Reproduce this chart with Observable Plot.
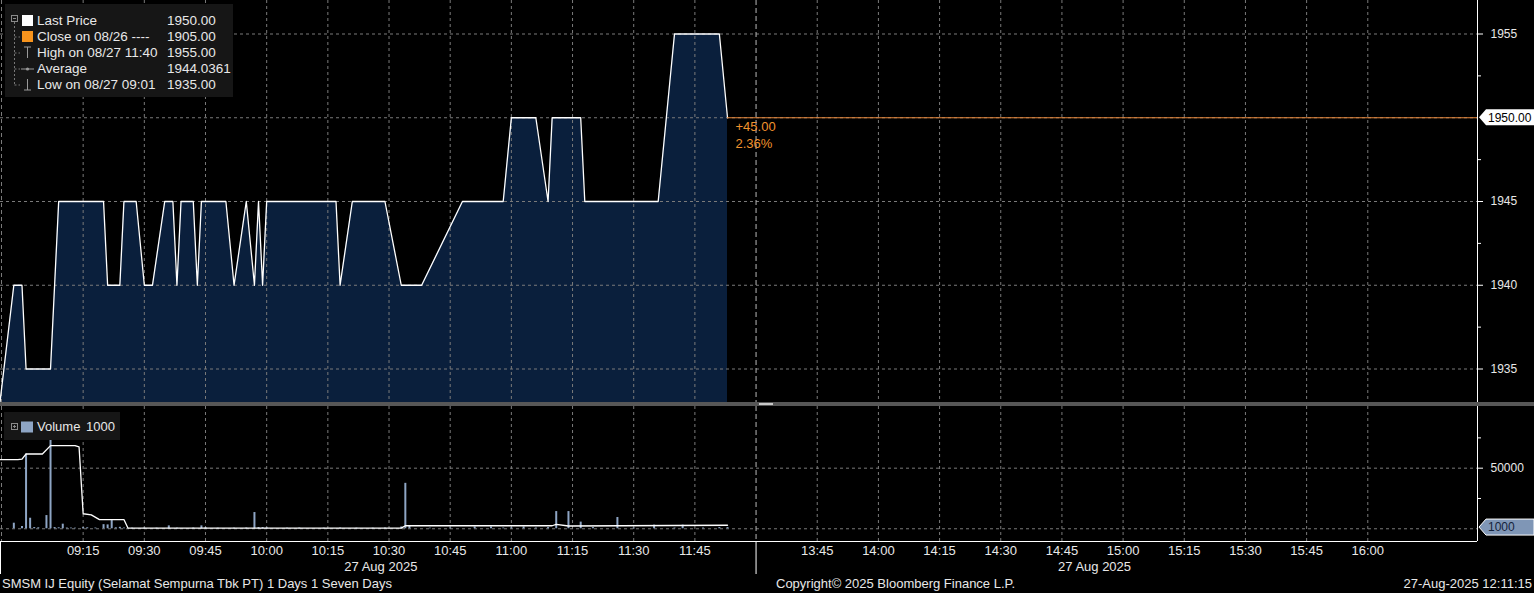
<!DOCTYPE html>
<html>
<head>
<meta charset="utf-8">
<script src="https://cdn.jsdelivr.net/npm/d3@7"></script>
<script src="https://cdn.jsdelivr.net/npm/@observablehq/plot@0.6"></script>
<style>
  html,body{margin:0;padding:0;background:#000;}
  #root{position:relative;width:1534px;height:593px;overflow:hidden;background:#000;font-family:"Liberation Sans",Arial,sans-serif;color:#e8e8e8;}
  #root svg{position:absolute;left:0;}
  .box{position:absolute;background:#161616;}
  .lgtext{position:absolute;font-size:13.5px;line-height:16px;white-space:pre;color:#e8e8e8;}
  .foot{position:absolute;top:576px;font-size:13px;line-height:16px;white-space:pre;color:#e8e8e8;}
</style>
</head>
<body>
<div id="root"></div>
<script>
// ---------- data ----------
const viewRange = ["08:54:44", "16:26:54"];          // visible time window (lunch break collapsed)
const sessionBreak = ["12:00", "13:30"];
const timeTickLabels = ["09:15","09:30","09:45","10:00","10:15","10:30","10:45","11:00","11:15","11:30","11:45",
                        "13:45","14:00","14:15","14:30","14:45","15:00","15:15","15:30","15:45","16:00"];
const dateLabel = "27 Aug 2025";
const dateLabelAt = ["10:28", "14:53"];

const priceTimes = ["08:41","08:58","09:00","09:01","09:07","09:09","09:20","09:21","09:24","09:25",
                    "09:28","09:30","09:32","09:35","09:37","09:38","09:39","09:42","09:43","09:44",
                    "09:50","09:52","09:55","09:57","09:58","09:59","10:00","10:17","10:18","10:21",
                    "10:29","10:33","10:38","10:48","10:58","11:00","11:06","11:09","11:10","11:17",
                    "11:18","11:36","11:40","11:51","11:53"];
const priceValues = [1905,1940,1940,1935,1935,1945,1945,1940,1940,1945,
                     1945,1940,1940,1945,1945,1940,1945,1945,1940,1945,
                     1945,1940,1945,1940,1945,1940,1945,1945,1940,1945,
                     1945,1940,1940,1945,1945,1950,1950,1945,1950,1950,
                     1945,1945,1955,1955,1950];
const priceDomain = [1933, 1957];
const priceTicks = [1935, 1940, 1945, 1955];
const priceMinorTicks = [1937.5, 1942.5, 1947.5, 1952.5];
const priceGrid = [1935, 1940, 1945, 1950, 1955];
const lastPrice = 1950;
const lastTime = "11:53";
const changeLabel = "+45.00\n2.36%";

const legendLabels = ["Last Price", "Close on 08/26 ----", "High on 08/27 11:40", "Average", "Low on 08/27 09:01"];
const legendValues = ["1950.00", "1905.00", "1955.00", "1944.0361", "1935.00"];

const volumeTimes = ["08:58","09:00","09:01","09:02","09:03","09:04","09:06","09:07","09:08","09:09",
                     "09:10","09:11","09:12","09:13","09:15","09:16","09:18","09:20","09:21","09:22",
                     "09:23","09:24","09:25","09:27","09:30","09:33","09:36","09:38","09:42","09:44",
                     "09:45","09:48","09:52","09:55","09:57","09:58","09:59","10:00","10:05","10:08",
                     "10:14","10:18","10:22","10:26","10:29","10:33","10:34","10:35","10:40","10:45",
                     "10:51","10:55","10:58","11:00","11:03","11:06","11:09","11:11","11:14","11:17",
                     "11:20","11:26","11:30","11:35","11:40","11:42","11:47","11:51","11:53"];
const volumeValues = [4600,1900,61700,8700,1000,800,10900,91000,1000,800,
                      3800,600,600,500,1000,800,600,3400,3200,6800,
                      800,1200,600,500,600,500,2400,500,600,2400,
                      1000,500,500,600,13400,1000,1000,800,500,600,
                      500,600,500,500,600,1500,37500,2000,500,600,
                      1500,1500,600,800,1500,600,1000,14200,14200,5500,
                      1000,9300,600,3000,600,3000,600,1000,1000];
const volAvgTimes = ["08:54","08:59","09:00","09:01","09:05","09:07","09:13","09:14","09:15","09:17",
                     "09:19","09:25","09:26","10:33","10:34","11:10","11:11","11:14","11:40","11:53"];
const volAvgValues = [57000,57000,57500,61700,61700,68600,68600,67500,12400,11500,
                      7600,7600,500,500,2500,2500,3700,2300,2700,2900];
const volDomain = [-10500, 100900];
const volTicks = [50000];
const volMinorTicks = [25000, 75000];
const volGrid = [0, 50000];
const lastVolume = 1000;
const volumeLegend = ["Volume", "1000"];

const footerLeft = "SMSM IJ Equity (Selamat Sempurna Tbk PT) 1 Days 1 Seven Days";
const footerCenter = "Copyright\u00A9 2025 Bloomberg Finance L.P.";
const footerRight = "27-Aug-2025 12:11:15";

// ---------- helpers ----------
const W = 1534;
const sm = s => { const [h, m, sec = 0] = s.split(":").map(Number); const t = h * 60 + m + sec / 60;
                  return t <= 720 ? t - 540 : t - 810 + 180; };   // trading minutes, lunch collapsed
const xDomain = viewRange.map(sm);
const fontFamily = '"Liberation Sans", Arial, sans-serif';
const gridColor = "#7a7a7a";
const root = document.getElementById("root");

const priceData = priceTimes.map((t, i) => ({t: sm(t), p: priceValues[i]}));
const volData = volumeTimes.map((t, i) => ({t: sm(t), v: volumeValues[i]}));
const avgData = volAvgTimes.map((t, i) => ({t: sm(t), v: volAvgValues[i]}));
const tickPos = timeTickLabels.map(sm);
const tickLabelMap = new Map(tickPos.map((p, i) => [p, timeTickLabels[i]]));
const breakPos = sm(sessionBreak[0]);
const lastPos = sm(lastTime);

const common = {
  width: W, marginLeft: 0, marginRight: 57, marginTop: 0,
  style: {background: "transparent", color: "#e8e8e8", fontFamily, fontSize: "12px", overflow: "visible"}
};
const vGrid = () => [
  Plot.ruleX(tickPos, {stroke: gridColor, strokeDasharray: "3,3"}),
  Plot.ruleX([xDomain[0]], {stroke: gridColor, strokeDasharray: "4,3", dx: 1}),
  Plot.ruleX([breakPos], {stroke: "#b8b8b8", strokeDasharray: "5,3"})
];

// ---------- price panel ----------
const pricePlot = Plot.plot({
  ...common, height: 402, marginBottom: 0,
  x: {domain: xDomain, label: null, axis: null},
  y: {domain: priceDomain, label: null},
  marks: [
    Plot.areaY(priceData, {x: "t", y1: priceDomain[0], y2: "p", fill: "#0a1f3c", clip: true}),
    Plot.ruleY(priceGrid, {stroke: gridColor, strokeDasharray: "3,3"}),
    ...vGrid(),
    Plot.line(priceData, {x: "t", y: "p", stroke: "#ffffff", strokeWidth: 1.3, clip: true}),
    Plot.ruleY([lastPrice], {x1: lastPos, x2: xDomain[1], stroke: "#e8873a"}),
    Plot.text([changeLabel], {x: lastPos, y: lastPrice, dx: 8, dy: 2, lineAnchor: "top", textAnchor: "start",
                              fill: "#f0922e", fontSize: 13, lineHeight: 1.25}),
    Plot.ruleX([xDomain[1]], {stroke: "#ffffff"}),
    Plot.axisY(priceTicks, {anchor: "right", tickSize: 5, tickPadding: 8, stroke: "#ffffff", fill: "#e8e8e8",
                            fontSize: 12, tickFormat: d => String(d)}),
    Plot.axisY(priceMinorTicks, {anchor: "right", tickSize: 3, tickFormat: () => "", stroke: "#ffffff"})
  ]
});
pricePlot.style.top = "0px";
root.appendChild(pricePlot);

// separator band between panels
const sep = document.createElement("div");
sep.style.cssText = "position:absolute;left:0;top:402px;width:1534px;height:4px;background:#575757;";
root.appendChild(sep);
const handle = document.createElement("div");
handle.style.cssText = "position:absolute;left:759px;top:403px;width:14px;height:2px;background:#c8c8c8;";
root.appendChild(handle);

// ---------- volume panel ----------
const volPlot = Plot.plot({
  ...common, height: 187, marginBottom: 52,
  x: {domain: xDomain, label: null},
  y: {domain: volDomain, label: null},
  marks: [
    Plot.ruleY(volGrid, {stroke: gridColor, strokeDasharray: "3,3"}),
    ...vGrid(),
    Plot.ruleX(volData, {x: "t", y1: 0, y2: "v", stroke: "#8ea5c4", strokeWidth: 2, ariaLabel: "volume-bars"}),
    Plot.line(avgData, {x: "t", y: "v", stroke: "#ffffff", strokeWidth: 1.3, clip: true}),
    Plot.ruleX([xDomain[1]], {stroke: "#ffffff"}),
    Plot.ruleY([volDomain[0]], {stroke: "#ffffff"}),
    Plot.axisY(volTicks, {anchor: "right", tickSize: 5, tickPadding: 8, stroke: "#ffffff", fill: "#e8e8e8",
                          fontSize: 12, tickFormat: d => d.toFixed(0)}),
    Plot.axisY(volMinorTicks, {anchor: "right", tickSize: 3, tickFormat: () => "", stroke: "#ffffff"}),
    Plot.axisX(tickPos, {anchor: "bottom", tickSize: 0, tickPadding: 4, fill: "#e8e8e8", fontSize: 13,
                         tickFormat: d => tickLabelMap.get(d)}),
    Plot.axisX([xDomain[0], breakPos], {anchor: "bottom", tickSize: 33, tickFormat: () => "", stroke: "#ffffff"}),
    Plot.axisX(dateLabelAt.map(sm), {anchor: "bottom", tickSize: 0, tickPadding: 20, fill: "#e8e8e8", fontSize: 13,
                                     tickFormat: () => dateLabel})
  ]
});
volPlot.style.top = "406px";
root.appendChild(volPlot);

// volume legend box sits under the bars but over the grid
{
  const svg = d3.select(volPlot);
  const bars = svg.select('g[aria-label="volume-bars"]').node();
  const rect = bars ? svg.insert("rect", () => bars) : svg.append("rect");
  rect.attr("x", 4).attr("y", 6).attr("width", 116).attr("height", 28).attr("fill", "#161616");
}

// value tags on the right axis
function addTag(plot, value, label, fill, textFill, outline) {
  const svg = d3.select(plot);
  const y = plot.scale("y").apply(value);
  const x0 = plot.scale("x").range[1];
  const g = svg.append("g");
  g.append("path")
    .attr("d", `M${x0 + 2},${y} L${x0 + 9},${y - 8} H${W} V${y + 8} H${x0 + 9} Z`)
    .attr("fill", fill).attr("stroke", outline).attr("stroke-width", 1);
  g.append("text").attr("x", x0 + 11).attr("y", y).attr("dy", "0.36em").attr("text-anchor", "start")
    .attr("fill", textFill).attr("font-size", 12).attr("font-family", fontFamily).text(label);
}
addTag(pricePlot, lastPrice, lastPrice.toFixed(2), "#ffffff", "#000000", "none");
addTag(volPlot, lastVolume, String(lastVolume), "#7f96b6", "#15233b", "#ffffff");

// ---------- legends ----------
function box(l, t, w, h) {
  const d = document.createElement("div"); d.className = "box";
  d.style.cssText += `left:${l}px;top:${t}px;width:${w}px;height:${h}px;`;
  root.appendChild(d);
}
function txt(s, l, cy, size) {
  const d = document.createElement("div"); d.className = "lgtext";
  d.style.left = l + "px"; d.style.top = (cy - 8) + "px"; d.textContent = s;
  if (size) d.style.fontSize = size + "px";
  root.appendChild(d);
}
box(5, 4, 228, 93);
const rowY = legendLabels.map((_, i) => 20.5 + i * 16);
legendLabels.forEach((s, i) => { txt(s, 37, rowY[i]); txt(legendValues[i], 167, rowY[i]); });

const icons = d3.select(root).append("svg").attr("width", 240).attr("height", 100)
  .style("position", "absolute").style("left", "0px").style("top", "0px");
icons.append("rect").attr("x", 11.5).attr("y", 15.5).attr("width", 6).attr("height", 6).attr("fill", "none").attr("stroke", "#8a8a8a");
icons.append("line").attr("x1", 13).attr("x2", 16).attr("y1", 18.5).attr("y2", 18.5).attr("stroke", "#8a8a8a");
icons.append("line").attr("x1", 14.5).attr("x2", 14.5).attr("y1", 22).attr("y2", rowY[4]).attr("stroke", "#777").attr("stroke-dasharray", "2,2");
rowY.slice(1).forEach(y => icons.append("line").attr("x1", 14.5).attr("x2", 20).attr("y1", y + 0.5).attr("y2", y + 0.5)
  .attr("stroke", "#777").attr("stroke-dasharray", "2,2"));
icons.append("rect").attr("x", 22).attr("y", rowY[0] - 5.5).attr("width", 11).attr("height", 11).attr("fill", "#ffffff");
icons.append("rect").attr("x", 22).attr("y", rowY[1] - 5.5).attr("width", 11).attr("height", 11).attr("fill", "#f7941d");
const ic = "#9a9a9a";
icons.append("path").attr("d", `M24,${rowY[2] - 5.5} H31 M27.5,${rowY[2] - 5.5} V${rowY[2] + 5.5}`).attr("stroke", ic).attr("fill", "none");
icons.append("path").attr("d", `M21,${rowY[3] + 0.5} H34`).attr("stroke", ic);
icons.append("circle").attr("cx", 27.5).attr("cy", rowY[3] + 0.5).attr("r", 1.6).attr("fill", ic);
icons.append("path").attr("d", `M24,${rowY[4] + 5.5} H31 M27.5,${rowY[4] - 5.5} V${rowY[4] + 5.5}`).attr("stroke", ic).attr("fill", "none");

// volume legend text / icons
txt(volumeLegend[0], 37, 427, 13); txt(volumeLegend[1], 86, 427, 13);
const vIcons = d3.select(root).append("svg").attr("width", 40).attr("height", 20)
  .style("position", "absolute").style("left", "0px").style("top", "417px");
vIcons.append("rect").attr("x", 11.5).attr("y", 6.5).attr("width", 6).attr("height", 6).attr("fill", "none").attr("stroke", "#8a8a8a");
vIcons.append("path").attr("d", "M13,9.5 H16 M14.5,8 V11").attr("stroke", "#8a8a8a");
vIcons.append("rect").attr("x", 21).attr("y", 4.5).attr("width", 12).attr("height", 11).attr("fill", "#8ea5c4");

// ---------- footer ----------
function foot(s, css) {
  const d = document.createElement("div"); d.className = "foot"; d.style.cssText += css; d.textContent = s;
  root.appendChild(d);
}
foot(footerLeft, "left:2px;");
foot(footerCenter, "left:776px;");
foot(footerRight, "right:2px;");
</script>
</body>
</html>
